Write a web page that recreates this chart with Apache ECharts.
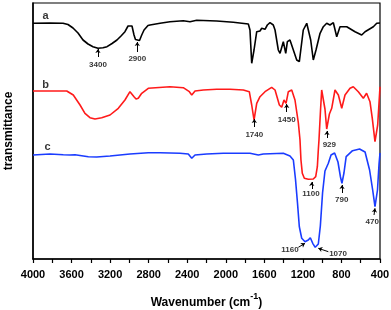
<!DOCTYPE html>
<html><head><meta charset="utf-8">
<script src="https://cdn.jsdelivr.net/npm/echarts@6/dist/echarts.min.js"></script>
<style>html,body{margin:0;padding:0;background:#fff}#c{width:391px;height:310px}</style>
</head><body><div id="c"></div>
<script>
// wavenumber (cm-1), transmittance (arbitrary offset units)
const curveA = [[4000,235.7],[3824,236],[3689,235.7],[3637,234.5],[3585,231],[3533,226],[3481,219],[3429,215],[3378,212.3],[3326,210.7],[3274,211.2],[3232,212.3],[3180,215.5],[3129,219],[3087,223],[3046,227.3],[3014,233],[2994,235],[2973,233],[2952,224],[2937,219.5],[2921,218.3],[2895,218.5],[2872,224],[2848,229],[2807,233.5],[2786,234],[2682,235.7],[2579,237.3],[2441,238.3],[2371,237.3],[2302,238.7],[2094,238],[1922,236.7],[1766,235],[1749,229],[1731,195.7],[1707,209],[1679,227.3],[1645,228],[1627,230.7],[1593,229.7],[1569,234],[1541,236.3],[1507,234],[1489,229],[1455,209],[1437,205.7],[1403,217.3],[1378,205.7],[1361,217.3],[1334,219],[1264,199],[1237,197.3],[1196,229],[1160,235.7],[1144,236.3],[1119,219],[1092,199],[1064,209],[1022,225.7],[988,232.3],[953,235.7],[919,234],[884,236.3],[849,222.3],[815,232.3],[745,232.3],[659,227.3],[590,224],[555,227.3],[469,232.3],[434,235.7],[417,234],[400,236]];
const curveB = [[4000,168],[3824,168],[3650,168],[3582,164],[3512,154],[3461,145.7],[3409,141.3],[3357,140],[3287,141.3],[3201,144],[3115,150.7],[3046,159],[2994,167.3],[2976,169],[2952,162.3],[2931,160],[2908,160.7],[2872,165.7],[2804,170.7],[2786,170.7],[2579,172.3],[2441,171.3],[2378,167.3],[2353,164],[2319,168],[2233,169],[2094,169.7],[1956,169.7],[1818,169],[1756,167.3],[1731,154],[1707,139],[1679,155.7],[1645,162.3],[1593,167.3],[1524,171.7],[1489,169],[1444,154],[1420,151.7],[1396,159],[1375,155.7],[1351,167.3],[1316,169],[1282,159],[1247,136],[1230,119],[1220,99],[1206,85.7],[1185,80.7],[1144,79.7],[1092,80],[1067,82.3],[1050,92.3],[1040,109],[1033,119],[1017,149],[1005,169],[988,170],[971,150],[953,130],[943,129],[925,145],[901,150.7],[867,169],[832,164],[797,150.7],[763,164],[711,170.7],[677,172.3],[625,167.3],[573,160.7],[539,165.7],[504,157.3],[480,140.7],[452,117.3],[424,134],[400,172.3]];
const curveC = [[4000,104],[3824,105],[3686,104.3],[3616,104],[3564,104.3],[3426,102.3],[3339,102],[3201,103],[2994,105],[2804,106.3],[2682,106.3],[2475,105.7],[2389,105],[2353,100.7],[2319,104],[2198,105],[2026,105.7],[1749,105.7],[1662,104],[1645,103],[1611,105],[1403,105.7],[1334,103],[1299,99],[1277,80],[1256,56],[1237,32.3],[1230,29],[1212,20.7],[1196,20.7],[1178,17.3],[1160,18.3],[1144,19],[1123,21.3],[1098,15.7],[1072,11.7],[1040,15],[1019,33],[996,66],[971,88],[936,95.7],[908,104],[871,106],[836,97],[810,82],[795,75.7],[774,86],[751,102.3],[685,108.3],[612,110],[555,107],[508,89],[476,69],[452,52.3],[426,69],[410,95],[400,106]];

const xTicks = [4000,3600,3200,2800,2400,2000,1600,1200,800,400];
const curveLabels = [['a',3870,243],['b',3870,174],['c',3850,112]];
// peak annotations: text, text x, text y, arrow x0, y0, arrow x1, y1
const peakLabels = [
  ['3400',3326,194,3326,202,3326,210],
  ['2900',2918,200.7,2918,207,2918,217],
  ['1740',1704,124.7,1704,132,1704,140],
  ['1450',1368,139.7,1368,147,1368,155],
  ['929',926,114.7,950,121,950,128],
  ['1100',1116,65,1108,70,1108,77],
  ['790',797,59.7,794,66,794,74],
  ['470',480,37.3,462,44,452,50.7],
  ['1160',1334,9,1247,11.7,1178,15.7],
  ['1070',835,5.7,936,7.3,1040,10.7]
];

const chart = echarts.init(document.getElementById('c'), null, {renderer:'canvas'});
const font = 'Arial, "Liberation Sans", sans-serif';
chart.setOption({
  animation:false,
  grid:{left:33,right:11,top:3,bottom:51,show:true,borderColor:'#000',borderWidth:1.2,backgroundColor:'transparent',containLabel:false,outerBoundsMode:'none'},
  xAxis:{type:'value',inverse:true,min:400,max:4000,interval:200,
    axisLine:{show:true,lineStyle:{color:'#000',width:1.5}},
    axisTick:{show:true,inside:false,length:4,lineStyle:{color:'#000',width:1.2}},
    splitLine:{show:false},
    axisLabel:{color:'#000',fontFamily:font,fontWeight:'bold',fontSize:11,margin:10,
      formatter:v=>xTicks.indexOf(v)>=0?String(v):''},
    name:'{t|Wavenumber (cm}{s|-1}{t|)}',nameLocation:'middle',nameGap:33,
    nameTextStyle:{rich:{t:{fontFamily:font,fontWeight:'bold',fontSize:12,color:'#000',verticalAlign:'bottom'},
      s:{fontFamily:font,fontWeight:'bold',fontSize:9,color:'#000',verticalAlign:'top',padding:[0,0,8,0]}}}
  },
  yAxis:{type:'value',min:0,max:256,
    axisLine:{show:true,lineStyle:{color:'#000',width:1.5}},
    axisTick:{show:false},axisLabel:{show:false},splitLine:{show:false},
    name:'transmittance',nameLocation:'middle',nameGap:18,nameRotate:90,
    nameTextStyle:{fontFamily:font,fontWeight:'bold',fontSize:12,color:'#000'}
  },
  series:[
    {type:'line',data:curveA,showSymbol:false,lineStyle:{color:'#000',width:1.6},z:3},
    {type:'line',data:curveB,showSymbol:false,lineStyle:{color:'#ff1a1a',width:1.6},z:2},
    {type:'line',data:curveC,showSymbol:false,lineStyle:{color:'#1a3cff',width:1.6},z:4},
    {type:'scatter',symbolSize:0,z:6,
      data:curveLabels.map(d=>({value:[d[1],d[2]],name:d[0]})),
      label:{show:true,position:'inside',formatter:p=>p.name,color:'#000',fontFamily:font,fontWeight:'bold',fontSize:11}},
    {type:'scatter',symbolSize:0,z:6,
      data:peakLabels.map(d=>({value:[d[1],d[2]],name:d[0]})),
      label:{show:true,position:'inside',formatter:p=>p.name,color:'#000',fontFamily:font,fontWeight:'bold',fontSize:8}},
    {type:'lines',coordinateSystem:'cartesian2d',z:6,
      symbol:['none','arrow'],symbolSize:4,
      lineStyle:{color:'#000',width:1,opacity:1},
      data:peakLabels.map(d=>({coords:[[d[3],d[4]],[d[5],d[6]]]}))}
  ]
});
</script></body></html>
